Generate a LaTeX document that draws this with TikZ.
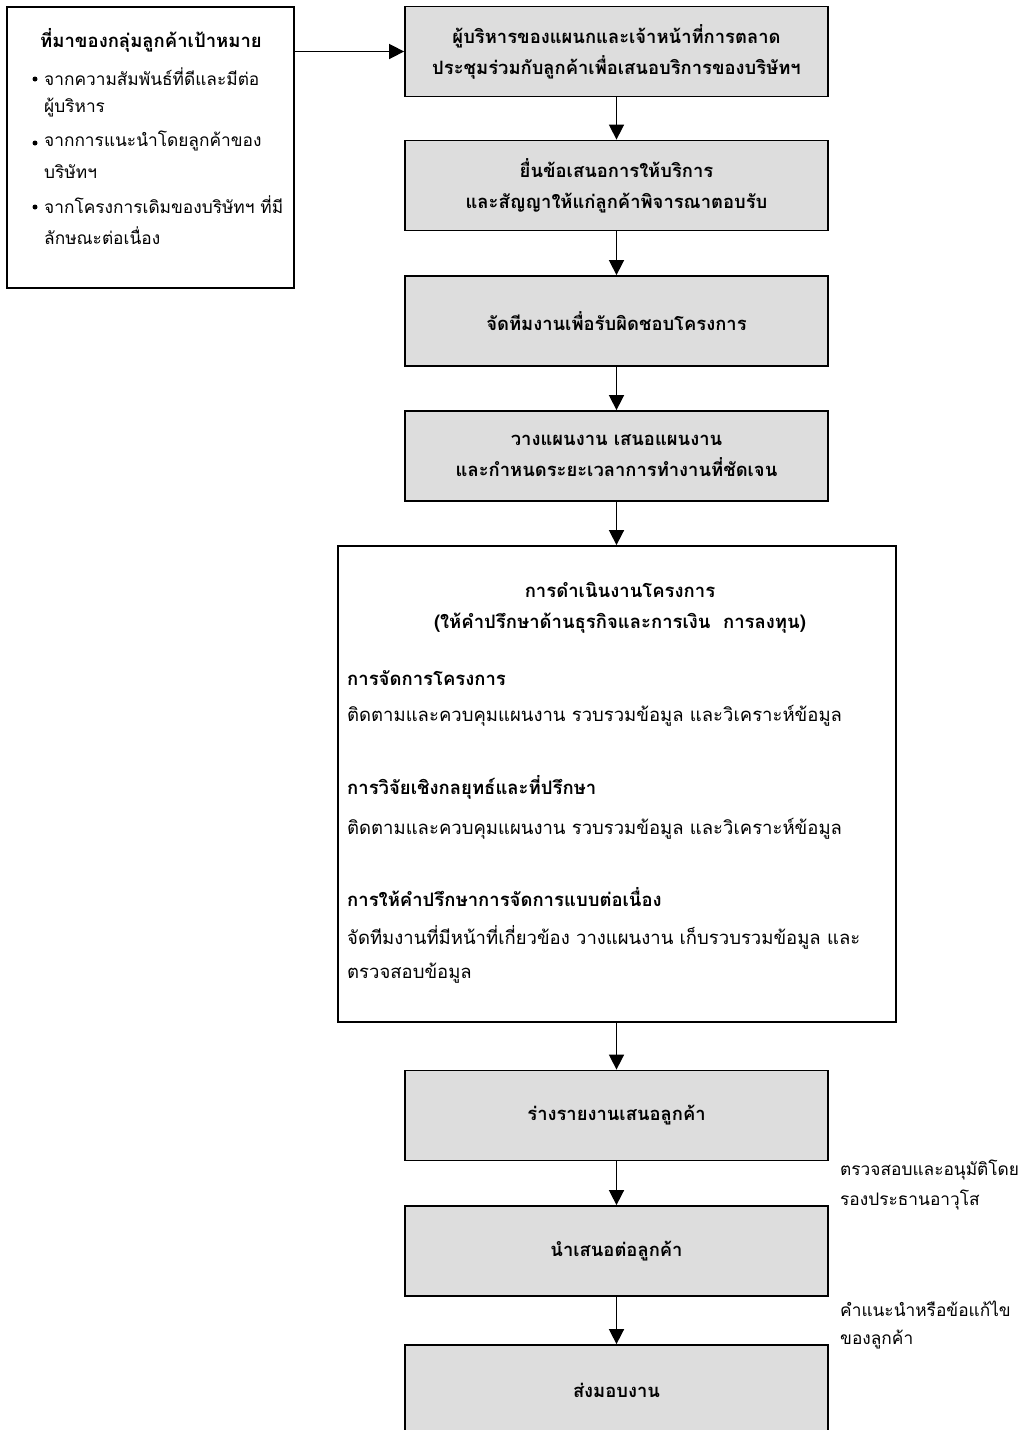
\documentclass[tikz,border=0pt]{standalone}
\usepackage{fontspec}
\setmainfont[Script=Thai]{Loma}
\usetikzlibrary{arrows.meta}
\definecolor{boxgray}{HTML}{DDDDDD}
\newcommand\fsbox{\fontsize{18.4}{31}\selectfont}
\newcommand\fsbody{\fontsize{18.5}{31}\selectfont}
\newcommand\fsleft{\fontsize{17.3}{31}\selectfont}
\newcommand\fsside{\fontsize{17.3}{30}\selectfont}
\begin{document}
\begin{tikzpicture}[x=1pt,y=-1pt,
  gbox/.style={draw, line width=1.8pt, fill=boxgray, minimum width=423pt, minimum height=90pt, align=center, font=\bfseries\fsbox, inner sep=0pt},
  wbox/.style={draw, line width=1.8pt, fill=white, inner sep=0pt},
  arr/.style={-{Triangle[length=15pt,width=15pt]}, line width=1.6pt},
  ttl/.style={font=\bfseries\fsbody, inner sep=0pt},
  txt/.style={font=\fsbody, inner sep=0pt, anchor=west},
  ltxt/.style={font=\fsleft, inner sep=0pt, anchor=west},
  stxt/.style={font=\fsside, inner sep=0pt, anchor=west},
  dot/.style={circle, fill=black, inner sep=0pt, minimum size=5pt}]
\useasboundingbox (0,0) rectangle (1023,1430);
% left source box
\node[wbox, minimum width=287pt, minimum height=281pt] (src) at (150.5,147.5) {};
\node[ttl] (srct) at (151,40) {ที่มาของกลุ่มลูกค้าเป้าหมาย};
\node[dot] (d1) at (35,79) {};
\node[ltxt] (s1) at (44,77) {จากความสัมพันธ์ที่ดีและมีต่อ};
\node[ltxt] (s2) at (44,108) {ผู้บริหาร};
\node[dot] (d2) at (35,143) {};
\node[ltxt] (s3) at (44,141) {จากการแนะนำโดยลูกค้าของ};
\node[ltxt] (s4) at (44,172) {บริษัทฯ};
\node[dot] (d3) at (35,207) {};
\node[ltxt] (s5) at (44,205) {จากโครงการเดิมของบริษัทฯ ที่มี};
\node[ltxt] (s6) at (44,236) {ลักษณะต่อเนื่อง};
% flow boxes
\node[gbox] (b1) at (616.5,51.5) {ผู้บริหารของแผนกและเจ้าหน้าที่การตลาด\\ประชุมร่วมกับลูกค้าเพื่อเสนอบริการของบริษัทฯ};
\node[gbox] (b2) at (616.5,185.5) {ยื่นข้อเสนอการให้บริการ\\และสัญญาให้แก่ลูกค้าพิจารณาตอบรับ};
\node[gbox] (b3) at (616.5,321) {จัดทีมงานเพื่อรับผิดชอบโครงการ};
\node[gbox] (b4) at (616.5,456) {วางแผนงาน เสนอแผนงาน\\และกำหนดระยะเวลาการทำงานที่ชัดเจน};
\node[wbox, minimum width=558pt, minimum height=476pt] (big) at (617,784) {};
\node[ttl] (bt1) at (620,590) {การดำเนินงานโครงการ};
\node[ttl] (bt2) at (620,623) {(ให้คำปรึกษาด้านธุรกิจและการเงิน\ \ การลงทุน)};
\node[ttl, anchor=west] (h1) at (347,678) {การจัดการโครงการ};
\node[txt] (t1) at (347,716) {ติดตามและควบคุมแผนงาน รวบรวมข้อมูล และวิเคราะห์ข้อมูล};
\node[ttl, anchor=west] (h2) at (347,787) {การวิจัยเชิงกลยุทธ์และที่ปรึกษา};
\node[txt] (t2) at (347,829) {ติดตามและควบคุมแผนงาน รวบรวมข้อมูล และวิเคราะห์ข้อมูล};
\node[ttl, anchor=west] (h3) at (347,897) {การให้คำปรึกษาการจัดการแบบต่อเนื่อง};
\node[txt] (t3) at (347,937) {จัดทีมงานที่มีหน้าที่เกี่ยวข้อง วางแผนงาน เก็บรวบรวมข้อมูล และ};
\node[txt] (t4) at (347,973) {ตรวจสอบข้อมูล};
\node[gbox] (b6) at (616.5,1115.5) {ร่างรายงานเสนอลูกค้า};
\node[gbox] (b7) at (616.5,1251) {นำเสนอต่อลูกค้า};
\node[gbox] (b8) at (616.5,1390) {ส่งมอบงาน};
% side notes
\node[stxt] (n1) at (840,1170) {ตรวจสอบและอนุมัติโดย};
\node[stxt] (n2) at (840,1200) {รองประธานอาวุโส};
\node[stxt] (n3) at (840,1309) {คำแนะนำหรือข้อแก้ไข};
\node[stxt] (n4) at (840,1340) {ของลูกค้า};
% connectors
\draw[arr] (src.east |- b1.west) -- (b1.west);
\draw[arr] (b1) -- (b2);
\draw[arr] (b2) -- (b3);
\draw[arr] (b3) -- (b4);
\draw[arr] (b4.south) -- (b4.south |- big.north);
\draw[arr] (b6.north |- big.south) -- (b6.north);
\draw[arr] (b6) -- (b7);
\draw[arr] (b7) -- (b8);
\end{tikzpicture}
\end{document}
